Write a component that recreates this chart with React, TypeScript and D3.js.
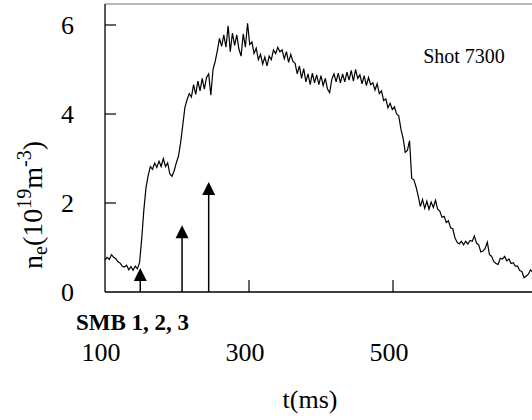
import React from 'react';
import * as d3 from 'd3';

// density trace, sampled every 3 ms starting at t = 100 ms
const traceStart = 100;
const traceStep = 3;
const density = [
  0.72, 0.78, 0.73, 0.84, 0.78, 0.75, 0.68, 0.65, 0.58, 0.56,
  0.60, 0.50, 0.57, 0.49, 0.58, 0.52, 0.66, 1.20, 1.85, 2.35,
  2.62, 2.82, 2.76, 2.90, 2.80, 2.94, 2.82, 3.00, 2.82, 2.90,
  2.66, 2.60, 2.72, 2.90, 3.05, 3.35, 3.75, 4.15, 4.32, 4.46,
  4.38, 4.66, 4.44, 4.74, 4.52, 4.80, 4.56, 4.82, 4.90, 4.42,
  5.00, 5.18, 5.42, 5.70, 5.52, 5.78, 5.50, 5.98, 5.40, 5.82,
  5.54, 5.78, 5.46, 5.30, 5.80, 5.50, 6.04, 5.56, 5.62, 5.36,
  5.48, 5.22, 5.34, 5.12, 5.28, 5.08, 5.30, 5.22, 5.44, 5.36,
  5.50, 5.40, 5.44, 5.24, 5.40, 5.16, 5.34, 5.18, 5.14, 4.90,
  5.08, 4.80, 5.02, 4.72, 4.90, 4.66, 4.92, 4.70, 4.88, 4.66,
  4.86, 4.64, 4.80, 4.56, 4.48, 4.78, 4.90, 4.72, 4.92, 4.70,
  4.90, 4.72, 4.94, 4.76, 4.98, 4.74, 5.00, 4.80, 4.88, 4.68,
  4.86, 4.64, 4.82, 4.66, 4.70, 4.54, 4.68, 4.46, 4.52, 4.30,
  4.34, 4.14, 4.24, 4.10, 4.16, 4.00, 3.96, 3.66, 3.46, 3.14,
  3.18, 3.40, 2.55, 2.52, 2.36, 2.16, 1.92, 2.08, 1.88, 2.04,
  1.86, 2.02, 1.90, 2.06, 1.86, 1.82, 1.68, 1.70, 1.56, 1.60,
  1.44, 1.42, 1.22, 1.12, 1.08, 1.14, 1.06, 1.14, 1.08, 1.16,
  1.14, 1.26, 1.10, 1.06, 0.90, 0.92, 0.98, 1.12, 0.84, 0.80,
  0.68, 0.64, 0.62, 0.76, 0.74, 0.80, 0.70, 0.74, 0.64, 0.66,
  0.58, 0.58, 0.48, 0.46, 0.32, 0.36, 0.40, 0.50, 0.44,
];

// SMB injection markers
const smbTimes = [149, 207, 244];
const smbLevels = [0.54, 1.5, 2.47];

const yTicks = [0, 2, 4, 6];
const xTicks = [100, 300, 500];

const serif = 'Liberation Serif';

export default function App() {
  const left = 105, right = 537, top = 4, bottom = 292;
  const x = d3.scaleLinear().domain([100, 700]).range([left, right]);
  const y = d3.scaleLinear().domain([0, 6]).range([bottom, bottom - 6 * 44.5]);

  const pts: [number, number][] = density.map((v, i) => [traceStart + i * traceStep, v]);
  const line = d3.line<[number, number]>()
    .x(d => x(d[0]))
    .y(d => y(d[1]));

  return (
    <svg width={532} height={420} style={{ position: 'absolute', left: 0, top: 0, background: '#fff' }}>
      <g style={{ fontFamily: serif }} fill="#000">
        {/* frame */}
        <line x1={left} x2={532} y1={top} y2={top} stroke="#a0a0a0" strokeWidth={1.5} />
        <line x1={left} x2={left} y1={top} y2={bottom} stroke="#000" strokeWidth={1.3} />
        <line x1={left} x2={532} y1={bottom} y2={bottom} stroke="#000" strokeWidth={1.3} />

        {yTicks.filter(t => t > 0).map(t => (
          <line key={'yt' + t} x1={left} x2={left + 11} y1={y(t)} y2={y(t)} stroke="#000" strokeWidth={1.2} />
        ))}
        {yTicks.map(t => (
          <text key={'yl' + t} x={74} y={y(t) + 9} textAnchor="end" fontSize={26}>{t}</text>
        ))}

        {xTicks.filter(t => t > 100).map(t => (
          <line key={'xt' + t} x1={x(t)} x2={x(t)} y1={bottom} y2={bottom - 12} stroke="#000" strokeWidth={1.2} />
        ))}
        {xTicks.map(t => (
          <text key={'xl' + t} x={x(t) - 4} y={361} textAnchor="middle" fontSize={26}>{t}</text>
        ))}

        <text x={76} y={330} fontSize={23} fontWeight="bold">SMB 1, 2, 3</text>
        <text x={310} y={408} textAnchor="middle" fontSize={26}>t(ms)</text>
        <text x={464} y={63} textAnchor="middle" fontSize={20}>Shot 7300</text>

        <text transform="translate(42,205) rotate(-90)" textAnchor="middle" fontSize={28}>
          n<tspan fontSize={20} dy={5}>e</tspan>
          <tspan dy={-5}>(10</tspan>
          <tspan fontSize={20} dy={-11}>19</tspan>
          <tspan dy={11}>m</tspan>
          <tspan fontSize={20} dy={-11}>-3</tspan>
          <tspan dy={11}>)</tspan>
        </text>

        {/* SMB arrows */}
        {smbTimes.map((t, i) => {
          const cx = x(t), tip = y(smbLevels[i]);
          return (
            <g key={'a' + i}>
              <line x1={cx} x2={cx} y1={bottom} y2={tip + 10} stroke="#000" strokeWidth={1.5} />
              <path d={`M${cx},${tip} L${cx - 6.5},${tip + 13} L${cx + 6.5},${tip + 13} Z`} fill="#000" />
            </g>
          );
        })}

        <path d={line(pts) || ''} fill="none" stroke="#000" strokeWidth={1.2} />
      </g>
    </svg>
  );
}
